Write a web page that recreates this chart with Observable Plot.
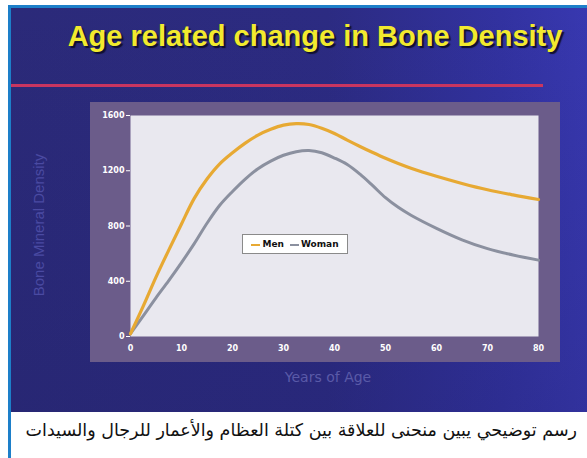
<!DOCTYPE html>
<html>
<head>
<meta charset="utf-8">
<script src="https://cdn.jsdelivr.net/npm/d3@7"></script>
<script src="https://cdn.jsdelivr.net/npm/@observablehq/plot@0.6"></script>
<style>
  html, body { margin: 0; padding: 0; background: #ffffff; }
  #page { position: relative; width: 587px; height: 458px; overflow: hidden; background: #ffffff; }
  #frameTop { position: absolute; left: 8px; top: 5px; width: 579px; height: 3px; background: #1d7fc9; }
  #frameLeft { position: absolute; left: 8px; top: 5px; width: 3px; height: 453px; background: #1d7fc9; }
  #slide { position: absolute; left: 11px; top: 8px; width: 576px; height: 404px;
    background:
      linear-gradient(to bottom, rgba(40,38,110,0.0) 0%, rgba(30,30,100,0.25) 100%),
      linear-gradient(to right, #2b2a79 0%, #2c2b82 55%, #3232a0 85%, #3838b0 100%); }
  #title { position: absolute; left: 0px; width: 630px; top: 20px; text-align: center;
    font-family: "Liberation Sans", Arial, sans-serif; font-weight: bold; font-size: 29px;
    color: #f2ea2e; text-shadow: 2px 2px 1px #101030; white-space: nowrap; }
  #redline { position: absolute; left: 11px; top: 84px; width: 532px; height: 3px; background: #c93560; }
  #chart { position: absolute; left: 90px; top: 102px; }
  #ylabel { position: absolute; left: 38px; top: 225px; transform: translate(-50%, -50%) rotate(-90deg);
    font-family: "Liberation Sans", Arial, sans-serif; font-size: 15px; color: #4a4aa2; white-space: nowrap; }
  #xlabel { position: absolute; left: 328px; top: 377px; transform: translate(-50%, -50%);
    font-family: "DejaVu Sans", sans-serif; font-size: 14px; color: #5a5aa8; white-space: nowrap; }
  #legend { position: absolute; left: 242px; top: 234px; width: 104px; height: 18px;
    background: #ffffff; border: 1px solid #8a8a8a; box-sizing: content-box;
    font-family: "DejaVu Sans", sans-serif; font-weight: bold; font-size: 9px; color: #111;
    display: flex; align-items: center; justify-content: center; gap: 6px; }
  #legend .sw { display: inline-block; width: 9px; height: 2px; margin-right: 2px; vertical-align: middle; }
  #caption { position: absolute; right: 10px; top: 420px; direction: rtl;
    font-family: "DejaVu Sans", sans-serif; font-size: 17.5px; color: #111; white-space: nowrap; }
</style>
</head>
<body>
<div id="page">
  <div id="slide"></div>
  <div id="frameTop"></div>
  <div id="frameLeft"></div>
  <div id="title">Age related change in Bone Density</div>
  <div id="redline"></div>
  <div id="ylabel">Bone Mineral Density</div>
  <div id="chart"></div>
  <div id="xlabel">Years of Age</div>
  <div id="legend"></div>
  <div id="caption">رسم توضيحي يبين منحنى للعلاقة بين كتلة العظام والأعمار للرجال والسيدات</div>
</div>
<script>
const ages   = [0, 2.5, 5, 7.5, 10, 12.5, 15, 17.5, 20, 22.5, 25, 27.5, 30, 32.5, 35, 37.5, 40, 42.5, 45, 47.5, 50, 52.5, 55, 60, 65, 70, 75, 80];
const men    = [20, 220, 430, 625, 815, 1000, 1140, 1250, 1330, 1400, 1458, 1500, 1530, 1541, 1535, 1508, 1470, 1422, 1376, 1332, 1290, 1252, 1218, 1160, 1108, 1062, 1025, 992];
const woman  = [20, 150, 280, 405, 535, 672, 820, 950, 1050, 1140, 1215, 1270, 1312, 1338, 1346, 1330, 1292, 1245, 1175, 1092, 1005, 935, 878, 783, 700, 636, 590, 553];
const seriesNames = ["Men", "Woman"];
const seriesColors = ["#e7a933", "#8b909f"];
const xTicks = [0, 10, 20, 30, 40, 50, 60, 70, 80];
const yTicks = [0, 400, 800, 1200, 1600];

const menData = ages.map((a, i) => ({age: a, value: men[i]}));
const womanData = ages.map((a, i) => ({age: a, value: woman[i]}));

const chart = Plot.plot({
  width: 470,
  height: 260,
  marginLeft: 40,
  marginRight: 22,
  marginTop: 13,
  marginBottom: 26,
  style: {background: "#6b5c8a", color: "#ffffff", fontFamily: "DejaVu Sans, sans-serif", fontSize: "8px", fontWeight: "bold", overflow: "visible"},
  x: {domain: [0, 80], label: null},
  y: {domain: [0, 1600], label: null},
  marks: [
    Plot.frame({fill: "#e9e8ef", stroke: null}),
    Plot.axisY({ticks: yTicks, tickFormat: d => String(d), tickSize: 4, tickPadding: 2, stroke: "#ffffff", label: null}),
    Plot.axisX({ticks: xTicks, tickFormat: d => String(d), tickSize: 0, tickPadding: 9, label: null}),
    Plot.lineY(womanData, {x: "age", y: "value", stroke: seriesColors[1], strokeWidth: 3, curve: "catmull-rom"}),
    Plot.lineY(menData, {x: "age", y: "value", stroke: seriesColors[0], strokeWidth: 3.2, curve: "catmull-rom"})
  ]
});
document.getElementById("chart").appendChild(chart);

const legend = document.getElementById("legend");
seriesNames.forEach((name, i) => {
  const item = document.createElement("span");
  item.innerHTML = `<span class="sw" style="background:${seriesColors[i]}"></span>${name}`;
  legend.appendChild(item);
});
</script>
</body>
</html>
